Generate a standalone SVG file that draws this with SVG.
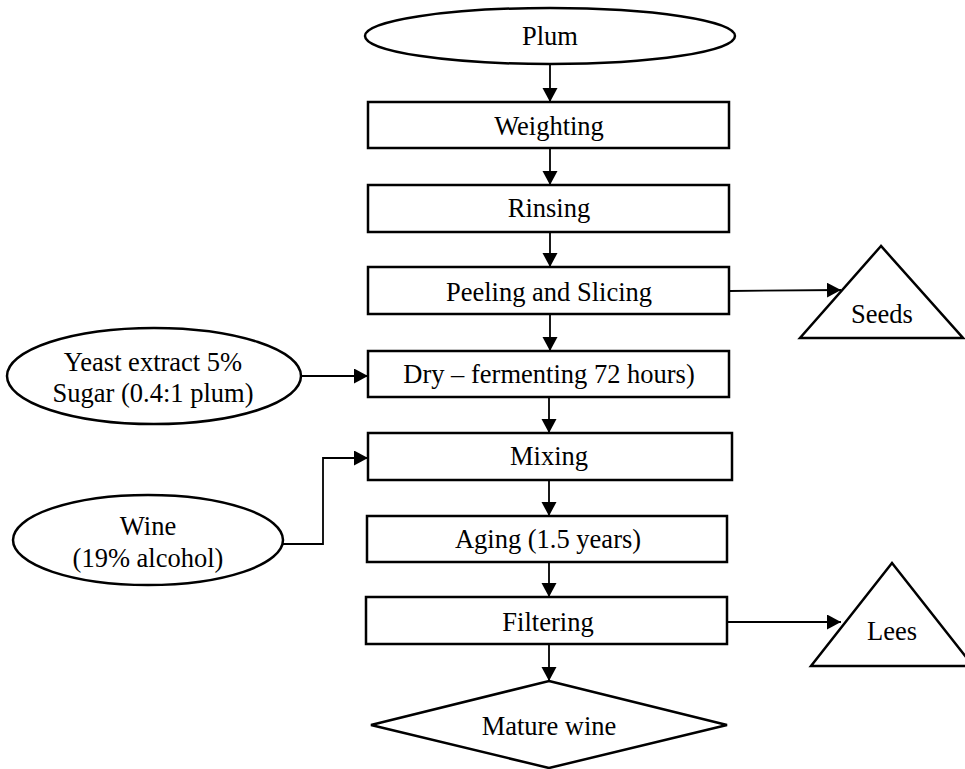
<svg xmlns="http://www.w3.org/2000/svg" width="965" height="769" viewBox="0 0 965 769">
<style>
.s{fill:#fff;stroke:#000;stroke-width:2.5}
.c{fill:none;stroke:#000;stroke-width:1.8}
.t{font-family:'Liberation Serif','Times New Roman','DejaVu Serif',serif;font-size:26.5px;fill:#000;text-anchor:middle}
</style>
<defs>
<marker id="a" markerUnits="userSpaceOnUse" markerWidth="15" markerHeight="16" refX="14" refY="7.5" orient="auto">
<path d="M0,0 L14,7.5 L0,15 z" fill="#000"/>
</marker>
</defs>
<rect width="965" height="769" fill="#fff"/>
<g id="connectors">
<line class="c" x1="550" y1="64" x2="550" y2="102" marker-end="url(#a)"/>
<line class="c" x1="550" y1="148" x2="550" y2="185" marker-end="url(#a)"/>
<line class="c" x1="550" y1="232" x2="550" y2="267" marker-end="url(#a)"/>
<line class="c" x1="550" y1="314" x2="550" y2="351" marker-end="url(#a)"/>
<line class="c" x1="549" y1="397" x2="549" y2="433" marker-end="url(#a)"/>
<line class="c" x1="549" y1="480" x2="549" y2="516" marker-end="url(#a)"/>
<line class="c" x1="549" y1="562" x2="549" y2="597" marker-end="url(#a)"/>
<line class="c" x1="549" y1="644" x2="549" y2="681" marker-end="url(#a)"/>
<line class="c" x1="729" y1="291" x2="841" y2="290" marker-end="url(#a)"/>
<line class="c" x1="727" y1="622" x2="841" y2="622" marker-end="url(#a)"/>
<line class="c" x1="301" y1="376" x2="368" y2="376" marker-end="url(#a)"/>
<polyline class="c" points="283,544 323,544 323,458 368,458" marker-end="url(#a)"/>
</g>
<g class="t" font-family="'Liberation Serif','Times New Roman','DejaVu Serif',serif">
<g id="plum"><ellipse class="s" cx="550" cy="36" rx="185" ry="28"/><text x="550" y="45">Plum</text></g>
<g id="weighting"><rect class="s" x="368" y="102" width="361" height="46"/><text x="549" y="135">Weighting</text></g>
<g id="rinsing"><rect class="s" x="368" y="185" width="361" height="47"/><text x="549" y="217">Rinsing</text></g>
<g id="peeling"><rect class="s" x="368" y="267" width="361" height="47"/><text x="549" y="301">Peeling and Slicing</text></g>
<g id="seeds"><polygon class="s" points="881,246 800,338 963,338"/><text x="882" y="323">Seeds</text></g>
<g id="yeast"><ellipse class="s" cx="154" cy="376" rx="147" ry="48"/><text x="153" y="371">Yeast extract 5%</text><text x="153" y="402">Sugar (0.4:1 plum)</text></g>
<g id="dry"><rect class="s" x="368" y="351" width="361" height="46"/><text x="549" y="383">Dry – fermenting 72 hours)</text></g>
<g id="mixing"><rect class="s" x="368" y="433" width="364" height="47"/><text x="549" y="465">Mixing</text></g>
<g id="wine"><ellipse class="s" cx="148" cy="540" rx="135" ry="45"/><text x="148" y="535">Wine</text><text x="148" y="567">(19% alcohol)</text></g>
<g id="aging"><rect class="s" x="367" y="516" width="360" height="46"/><text x="548" y="548">Aging (1.5 years)</text></g>
<g id="filtering"><rect class="s" x="366" y="597" width="361" height="47"/><text x="548" y="631">Filtering</text></g>
<g id="lees"><polygon class="s" points="892,563 811,666 973,666"/><text x="892" y="640">Lees</text></g>
<g id="mature"><polygon class="s" points="549,681 727,725 549,768 371,725"/><text x="549" y="735">Mature wine</text></g>
</g>
</svg>
